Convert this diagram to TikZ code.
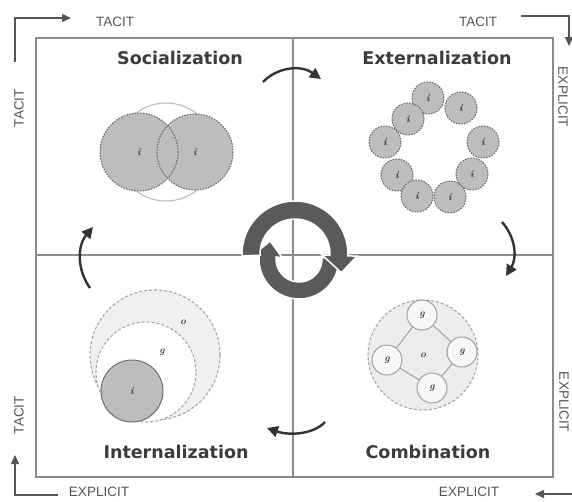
\documentclass[tikz,border=0pt]{standalone}
\usepackage{fontspec}
\newfontfamily\headfont{DejaVu Sans}
\newfontfamily\axisfont{Liberation Sans}
\usetikzlibrary{arrows.meta,calc}
\definecolor{framegray}{HTML}{8C8C8C}
\definecolor{axisgray}{HTML}{555555}
\definecolor{titlegray}{HTML}{3C3C3C}
\definecolor{arrowgray}{HTML}{333333}
\definecolor{ringgray}{HTML}{5A5A5A}
\definecolor{knowfill}{HTML}{BDBDBD}
\definecolor{knowedge}{HTML}{707070}
\definecolor{labelgray}{HTML}{3A3A3A}
\begin{document}
\begin{tikzpicture}[x=1pt,y=-1pt,
  frameline/.style={draw=framegray, line width=1.8},
  axisarrow/.style={draw=axisgray, line width=1.3, -{Triangle[length=9,width=8]}},
  axislabel/.style={text=axisgray, font=\axisfont\fontsize{13.5}{14}\selectfont, inner sep=0},
  quadtitle/.style={text=titlegray, font=\headfont\bfseries\fontsize{17.5}{20}\selectfont, inner sep=0},
  cyclearrow/.style={draw=arrowgray, line width=2.4, -{Triangle[length=11,width=11]}},
  ringpiece/.style={fill=ringgray, draw=white, line width=1.5, line join=miter},
  knowfillonly/.style={circle, fill=knowfill, inner sep=0},
  knowcircle/.style={circle, fill=knowfill, draw=knowedge, dash pattern=on 1.6 off 1.2, line width=1.1, inner sep=0},
  bumpy/.style={draw=knowedge, dash pattern=on 1.6 off 1.2, line width=1.1},
  dashring/.style={draw=gray!70, dash pattern=on 3 off 2, line width=1.1},
  groupcircle/.style={circle, fill=gray!6, draw=gray!75, line width=1, inner sep=0, minimum size=30},
  tinylabel/.style={font=\bfseries\itshape\fontsize{10}{10}\selectfont, text=labelgray, inner sep=0}
]
\useasboundingbox (0,0) rectangle (572,501);
\fill[white] (0,0) rectangle (572,501);

% ---------- frame and quadrant lines ----------
\coordinate (tl) at (36,38);
\coordinate (br) at (553,477);
\coordinate (mt) at (293,38);
\coordinate (mb) at (293,477);
\coordinate (ml) at (36,255);
\coordinate (mr) at (553,255);
\draw[frameline] (tl) rectangle (br);
\draw[frameline] (mt) -- (mb);
\draw[frameline] (ml) -- (mr);

% ---------- outer axis arrows and labels ----------
\coordinate (a1s) at (15,62);
\coordinate (a1c) at (15,18);
\coordinate (a1e) at (71,18);
\draw[axisarrow] (a1s) -- (a1c) -- (a1e);

\coordinate (a2s) at (521,16);
\coordinate (a2c) at (569,16);
\coordinate (a2e) at (569,46);
\draw[axisarrow] (a2s) -- (a2c) -- (a2e);

\coordinate (a3s) at (576,494);
\coordinate (a3e) at (535,494);
\draw[axisarrow] (a3s) -- (a3e);

\coordinate (a4s) at (58,495);
\coordinate (a4c) at (15,495);
\coordinate (a4e) at (15,455);
\draw[axisarrow] (a4s) -- (a4c) -- (a4e);

\node[axislabel] (ttl) at (115,22) {TACIT};
\node[axislabel] (ttr) at (478,22) {TACIT};
\node[axislabel] (ebl) at (99,492) {EXPLICIT};
\node[axislabel] (ebr) at (469,492) {EXPLICIT};
\node[axislabel, rotate=90] (tlu) at (19,108) {TACIT};
\node[axislabel, rotate=90] (tll) at (19,415) {TACIT};
\node[axislabel, rotate=-90] (eru) at (563,97) {EXPLICIT};
\node[axislabel, rotate=-90] (erl) at (564,402) {EXPLICIT};

% ---------- quadrant titles ----------
\node[quadtitle] (soc) at (180,58) {Socialization};
\node[quadtitle] (ext) at (437,58) {Externalization};
\node[quadtitle] (int) at (176,452) {Internalization};
\node[quadtitle] (com) at (428,452) {Combination};

% ---------- socialization: two overlapping individuals ----------
\node[circle, draw=gray!55, line width=1, fill=white, minimum size=98, inner sep=0] (socring) at (166,152) {};
\node[knowfillonly, minimum size=78] (s1) at (139,152) {};
\node[knowfillonly, minimum size=76] (s2) at (195,152) {};
\draw[bumpy] (s1.center) circle[radius=39];
\draw[bumpy] (s2.center) circle[radius=38];
\node[tinylabel] (s1l) at (s1.center) {i};
\node[tinylabel] (s2l) at (s2.center) {i};

% ---------- externalization: ring of individuals ----------
\foreach \n/\px/\py in {1/428/98, 2/461/108, 3/408/119, 4/385/142, 5/483/142,
                         6/397/175, 7/472/174, 8/417/196, 9/450/197} {
  \node[knowcircle, minimum size=32] (e\n) at (\px,\py) {};
  \node[tinylabel] (e\n l) at (e\n.center) {i};
}

% ---------- combination: groups within the organization ----------
\node[circle, fill=gray!14, dashring, minimum size=110, inner sep=0] (org) at (423,355) {};
\node[tinylabel] (orgl) at (org.center) {o};
\node[groupcircle] (gt) at (422,315) {};
\node[groupcircle] (gr) at (462,352) {};
\node[groupcircle] (gb) at (432,388) {};
\node[groupcircle] (gl) at (387,360) {};
\draw[gray!75, line width=1] (gt) -- (gr) -- (gb) -- (gl) -- (gt);
\foreach \g in {gt,gr,gb,gl} {
  \node[tinylabel] (\g l) at (\g.center) {g};
}

% ---------- internalization: individual inside group inside organization ----------
\node[circle, fill=gray!12, dashring, minimum size=130, inner sep=0] (iorg) at (155,355) {};
\node[circle, fill=white, dashring, minimum size=100, inner sep=0] (igrp) at (146,372) {};
\node[circle, fill=knowfill, draw=knowedge, line width=1, minimum size=62, inner sep=0] (iind) at (132,391) {};
\node[tinylabel] (iindl) at (iind.center) {i};
\node[tinylabel] (igrpl) at (162,352) {g};
\node[tinylabel] (iorgl) at (183,322) {o};

% ---------- curved arrows between the quadrants ----------
\coordinate (c1s) at (263,82);
\coordinate (c1e) at (321,79);
\draw[cyclearrow] (c1s) .. controls (276,68) and (300,64) .. (c1e);

\coordinate (c2s) at (502,222);
\coordinate (c2e) at (506,276);
\draw[cyclearrow] (c2s) .. controls (516,238) and (517,258) .. (c2e);

\coordinate (c3s) at (325,422);
\coordinate (c3e) at (267,428);
\draw[cyclearrow] (c3s) .. controls (314,434) and (290,436) .. (c3e);

\coordinate (c4s) at (90,288);
\coordinate (c4e) at (93,227);
\draw[cyclearrow] (c4s) .. controls (77,270) and (77,246) .. (c4e);

% ---------- central cycle symbol (angles run clockwise, y points down) ----------
\coordinate (ringc) at (295,254);
\coordinate (ringd) at (299,259);
% lower arc: right, under the bottom, to a head pointing up on the left
\path[ringpiece] (ringd) ++(-3:40) arc[start angle=-3, end angle=185, radius=40]
  -- ($(ringd)+(185:46)$) -- ($(ringd)+(212:34)$) -- ($(ringd)+(185:17)$)
  -- ($(ringd)+(185:23)$) arc[start angle=185, end angle=-3, radius=23] -- cycle;
% upper arc: left, over the top, to a head pointing down on the right
\path[ringpiece] (ringc) ++(178:53) arc[start angle=178, end angle=362, radius=53]
  -- ($(ringc)+(362:62)$) -- ($(ringc)+(22:50)$) -- ($(ringc)+(362:27)$)
  -- ($(ringc)+(362:35)$) arc[start angle=362, end angle=178, radius=35] -- cycle;
\end{tikzpicture}
\end{document}
